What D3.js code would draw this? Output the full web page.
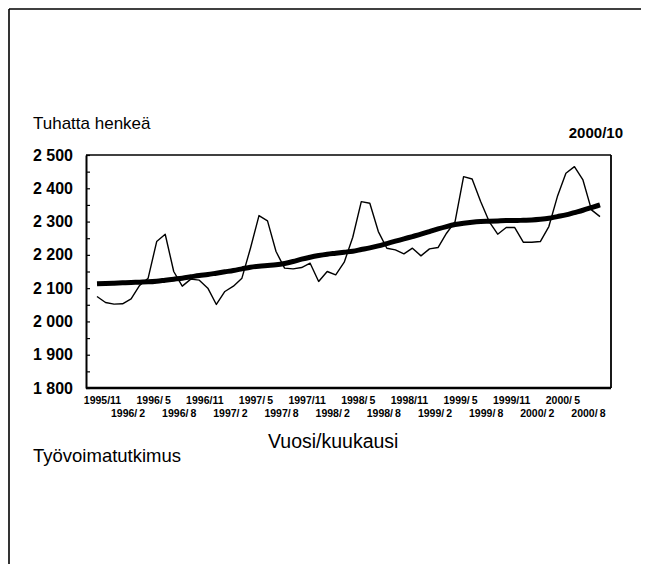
<!DOCTYPE html>
<html>
<head>
<meta charset="utf-8">
<script src="https://cdn.jsdelivr.net/npm/d3@7"></script>
<style>
  html, body { margin: 0; padding: 0; background: #fff; }
  svg { display: block; }
  text { font-family: "Liberation Sans", Arial, sans-serif; fill: #000; }
</style>
</head>
<body>
<svg id="chart" width="645" height="564"></svg>
<script>
// ---- data ----
const months = [
  "1995/11","1995/12",
  "1996/1","1996/2","1996/3","1996/4","1996/5","1996/6","1996/7","1996/8","1996/9","1996/10","1996/11","1996/12",
  "1997/1","1997/2","1997/3","1997/4","1997/5","1997/6","1997/7","1997/8","1997/9","1997/10","1997/11","1997/12",
  "1998/1","1998/2","1998/3","1998/4","1998/5","1998/6","1998/7","1998/8","1998/9","1998/10","1998/11","1998/12",
  "1999/1","1999/2","1999/3","1999/4","1999/5","1999/6","1999/7","1999/8","1999/9","1999/10","1999/11","1999/12",
  "2000/1","2000/2","2000/3","2000/4","2000/5","2000/6","2000/7","2000/8","2000/9","2000/10"
];
const monthly = [
  2075, 2057,
  2052, 2053, 2068, 2108, 2130, 2240, 2262, 2150, 2106, 2127, 2124, 2100,
  2051, 2090, 2106, 2130, 2220, 2318, 2302, 2210, 2160, 2158, 2162, 2175,
  2120, 2150, 2140, 2178, 2253, 2360, 2355, 2270, 2220, 2215, 2203, 2220,
  2197, 2218, 2222, 2265, 2300, 2435, 2428, 2360, 2300, 2262, 2282, 2282,
  2238, 2238, 2240, 2285, 2375, 2445, 2465, 2425, 2335, 2315
];
const trend = [
  2113, 2114,
  2115, 2116, 2117, 2118, 2119, 2121, 2124, 2127, 2130, 2134, 2138, 2141,
  2145, 2149, 2153, 2158, 2163, 2166, 2168, 2170, 2174, 2180, 2187, 2193,
  2198, 2202, 2205, 2208, 2211, 2216, 2221, 2227, 2234, 2241, 2248, 2255,
  2262, 2270, 2278, 2285, 2291, 2295, 2298, 2300, 2301, 2302, 2303, 2303,
  2304, 2305, 2307, 2310, 2315, 2320, 2327, 2334, 2342, 2350
];
const xLabelsTop = ["1995/11","1996/5","1996/11","1997/5","1997/11","1998/5","1998/11","1999/5","1999/11","2000/5"];
const xLabelsBottom = ["1996/2","1996/8","1997/2","1997/8","1998/2","1998/8","1999/2","1999/8","2000/2","2000/8"];
const yTicks = [1800, 1900, 2000, 2100, 2200, 2300, 2400, 2500];
const yMinorTicks = [1850, 1950, 2050, 2150, 2250, 2350, 2450];
const yLabel = "Tuhatta henkeä";
const periodLabel = "2000/10";
const xTitle = "Vuosi/kuukausi";
const source = "Työvoimatutkimus";

// ---- layout ----
const svg = d3.select("#chart");
const plot = { left: 86, right: 611, top: 155, bottom: 388 };

const x = d3.scalePoint().domain(months).range([97, 600]);
const y = d3.scaleLinear().domain([1800, 2500]).range([plot.bottom, plot.top]);

// page frame (scan border)
svg.append("line").attr("x1", 9).attr("x2", 641).attr("y1", 9).attr("y2", 9)
  .attr("stroke", "#000").attr("stroke-width", 1.4);
svg.append("line").attr("x1", 9).attr("x2", 9).attr("y1", 9).attr("y2", 564)
  .attr("stroke", "#000").attr("stroke-width", 1.6);

// plot frame
svg.append("line").attr("x1", plot.left).attr("x2", plot.right).attr("y1", plot.top).attr("y2", plot.top)
  .attr("stroke", "#000").attr("stroke-width", 1.5);
svg.append("line").attr("x1", plot.right).attr("x2", plot.right).attr("y1", plot.top).attr("y2", plot.bottom)
  .attr("stroke", "#000").attr("stroke-width", 1.8);

// y axis
const fmt = d3.formatLocale({ decimal: ",", thousands: "\u2009", grouping: [3], currency: ["", ""] }).format(",d");
const yAxis = d3.axisLeft(y)
  .tickValues(yTicks.concat(yMinorTicks))
  .tickSizeInner(-4).tickSizeOuter(0).tickPadding(13)
  .tickFormat(d => yTicks.includes(d) ? fmt(d).replace("\u2009", " ") : "");
const gy = svg.append("g").attr("transform", `translate(${plot.left},0)`).call(yAxis);
gy.select(".domain").attr("stroke", "#000").attr("stroke-width", 2);
gy.selectAll(".tick line").attr("stroke", "#000").attr("stroke-width", 1.2);
gy.selectAll(".tick text").attr("font-size", 16).attr("font-weight", "bold")
  .style("font-family", "'Liberation Sans', Arial, sans-serif");

// x axis (baseline only)
const xAxis = d3.axisBottom(x).tickValues([]).tickSizeOuter(0);
const gx = svg.append("g").attr("transform", `translate(0,${plot.bottom})`).call(xAxis);
gx.select(".domain").attr("d", `M${plot.left},0H${plot.right}`).attr("stroke", "#000").attr("stroke-width", 2.4);

// x tick labels (two staggered rows)
const labelOffset = 5.5;
svg.append("g").selectAll("text").data(xLabelsTop).join("text")
  .attr("x", d => x(d) + labelOffset).attr("y", 404)
  .attr("text-anchor", "middle").attr("font-size", 10.5).attr("font-weight", "bold")
  .text(d => { const [a, b] = d.split("/"); return b.length === 1 ? a + "/\u2009" + b : d; });
svg.append("g").selectAll("text").data(xLabelsBottom).join("text")
  .attr("x", d => x(d) + labelOffset).attr("y", 417)
  .attr("text-anchor", "middle").attr("font-size", 10.5).attr("font-weight", "bold")
  .text(d => { const [a, b] = d.split("/"); return b.length === 1 ? a + "/\u2009" + b : d; });

// lines
const line = d3.line().x((d, i) => x(months[i])).y(d => y(d));
svg.append("path").datum(monthly).attr("d", line)
  .attr("fill", "none").attr("stroke", "#000").attr("stroke-width", 1.4).attr("stroke-linejoin", "round");
svg.append("path").datum(trend).attr("d", line.curve(d3.curveMonotoneX))
  .attr("fill", "none").attr("stroke", "#000").attr("stroke-width", 5).attr("stroke-linecap", "butt");

// texts
svg.append("text").attr("x", 33).attr("y", 129).attr("font-size", 17).text(yLabel);
svg.append("text").attr("x", 623).attr("y", 138).attr("text-anchor", "end")
  .attr("font-size", 15).attr("font-weight", "bold").text(periodLabel);
svg.append("text").attr("x", 268).attr("y", 448).attr("font-size", 19.5).text(xTitle);
svg.append("text").attr("x", 33).attr("y", 462).attr("font-size", 18.5).text(source);
</script>
</body>
</html>
